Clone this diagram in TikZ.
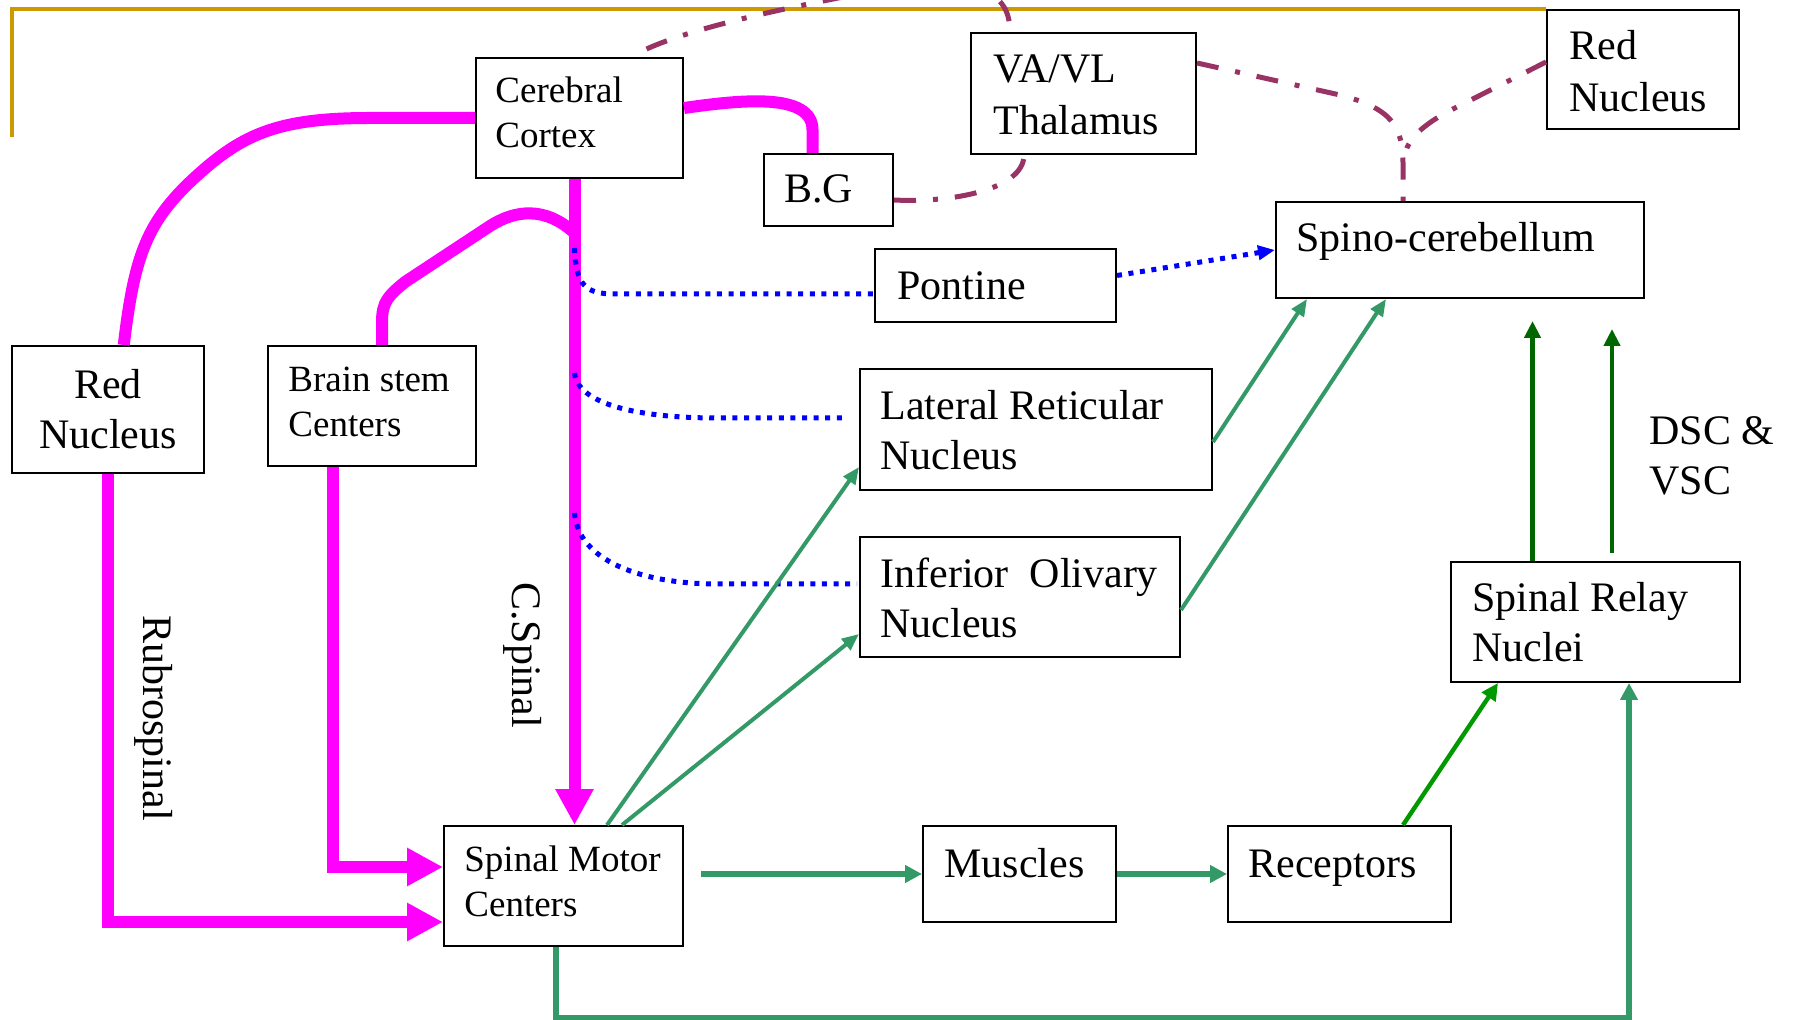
\documentclass[tikz,border=0pt]{standalone}
\usepackage{fontspec}
\setmainfont{Liberation Serif}
\usetikzlibrary{arrows.meta,calc}
\definecolor{magc}{RGB}{255,0,255}
\definecolor{plum}{RGB}{153,51,102}
\definecolor{sgreen}{RGB}{51,153,102}
\definecolor{bgreen}{RGB}{0,153,0}
\definecolor{dgreen}{RGB}{0,102,0}
\definecolor{goldc}{RGB}{204,153,0}
\newcommand\fbig{\fontsize{21}{25.2}\selectfont}
\newcommand\fsmall{\fontsize{18.5}{22.5}\selectfont}
\begin{document}
\begin{tikzpicture}[x=0.5pt,y=-0.5pt,
  box/.style 2 args={draw=black,line width=1pt,fill=white,inner sep=0pt,minimum width=#1,minimum height=#2},
  txt/.style={inner sep=0pt,anchor=base west,align=left,font=\fbig},
  stxt/.style={txt,font=\fsmall},
  magl/.style={line width=6pt,color=magc},
  magarr/.style={magl,-{Triangle[length=18pt,width=18pt]}},
  bdot/.style={line width=2.5pt,color=blue,dash pattern=on 2.5pt off 3.3pt},
  pdd/.style={line width=2.5pt,color=plum,dash pattern=on 11pt off 8.5pt on 2.5pt off 8.5pt},
  garr/.style={line width=2pt,color=sgreen,-{Triangle[length=8.5pt,width=7pt]}},
  gharr/.style={line width=2.6pt,color=sgreen,-{Triangle[length=8.5pt,width=8.5pt]}},
  dgarr/.style={line width=2.2pt,color=dgreen,-{Triangle[length=8.5pt,width=8pt]}},
  goldl/.style={line width=2pt,color=goldc}
]
\useasboundingbox (0,0) rectangle (1793,1020);

% boxes
\node[box={103.5pt}{60pt}] (cc) at (579.5,118) {};
\node[box={64.5pt}{36pt}] (bg) at (828.5,190) {};
\node[box={112.5pt}{60.5pt}] (vav) at (1083.5,93.5) {};
\node[box={96pt}{59.5pt}] (rnr) at (1643,69.5) {};
\node[box={184pt}{48pt}] (spc) at (1460,250) {};
\node[box={120.5pt}{36.5pt}] (pon) at (995.5,285.5) {};
\node[box={176pt}{60.5pt}] (lrn) at (1036,429.5) {};
\node[box={160pt}{60pt}] (ion) at (1020,597) {};
\node[box={96.25pt}{63.5pt}] (rnl) at (107.75,409.5) {};
\node[box={104pt}{60pt}] (bsc) at (372,406) {};
\node[box={119.5pt}{60pt}] (smc) at (563.5,886) {};
\node[box={96.5pt}{48pt}] (mus) at (1019.5,874) {};
\node[box={111.5pt}{48pt}] (rec) at (1339.5,874) {};
\node[box={144.5pt}{60pt}] (srn) at (1595.5,622) {};

% gold frame line
\coordinate (goldEnd) at (11.5,137);
\draw[goldl] (goldEnd) |- (rnr.north west);

% magenta pathways
\coordinate (csTop) at ($(cc.south)+(-5,0)$);
\draw[magl] ($(rnl.north)+(16,0)$) .. controls (134,260) and (145,225) .. (190,182)
  .. controls (240,135) and (275,118) .. (370,118) -- (cc.west);
\draw[magl] ($(cc.east)+(0,-10)$) .. controls (740,100) and (812.5,92) .. (812.5,130) -- ($(bg.north)+(-16,0)$);
\draw[magarr] (csTop) -- (csTop |- smc.north);
\draw[magl] ($(bsc.north)+(10,0)$) -- (382,322) .. controls (382,302) and (388,296) .. (405,282)
  -- (490,226) .. controls (515,210) and (545,206) .. ($(csTop)+(0,54)$);
\draw[magarr] (rnl.south) |- ($(smc.west)+(0,36)$);
\draw[magarr] ($(bsc.south)+(-39,0)$) |- ($(smc.west)+(0,-19)$);

% blue dotted
\draw[bdot] ($(csTop)+(0,69)$) .. controls (576,285) and (585,294) .. (615,294) -- ($(pon.west)+(0,8.5)$);
\draw[bdot] ($(csTop)+(0,194)$) .. controls (578,405) and (640,418) .. (718,418) -- ($(lrn.west)+(-13,-11.5)$);
\draw[bdot] ($(csTop)+(0,334)$) .. controls (578,560) and (640,584) .. (718,584) -- ($(ion.west)+(-2,-13)$);
\draw[bdot,-{Triangle[length=8.5pt,width=7pt]}] ($(pon.east)+(0,-10)$) -- (spc.west);

% plum dash-dot
\coordinate (jn) at ($(spc.north)+(-57,-37)$);
\draw[pdd] ($(cc.north)+(67,-8)$) .. controls (700,25) and (800,5) .. (880,-10)
  .. controls (960,-25) and (1012,-15) .. ($(vav.north)+(-74,0)$);
\draw[pdd] ($(bg.east)+(0,10)$) .. controls (950,203) and (1024,190) .. ($(vav.south)+(-59.5,0)$);
\draw[pdd] ($(vav.east)+(0,-30.5)$) -- (1340,95) .. controls (1390,108) and (1403,125) .. (jn) -- ($(spc.north)+(-57,0)$);
\draw[pdd] ($(rnr.west)+(0,-7.5)$) -- (1445,113) .. controls (1420,128) and (1405,140) .. (jn);

% green pathways
\draw[garr] ($(smc.north)+(43.5,0)$) -- ($(lrn.west)+(0,37.5)$);
\draw[garr] ($(smc.north)+(58.5,0)$) -- ($(ion.west)+(0,37)$);
\draw[garr] ($(lrn.east)+(0,12.5)$) -- ($(spc.south)+(-153,0)$);
\draw[garr] ($(ion.east)+(0,13)$) -- ($(spc.south)+(-74,0)$);
\draw[gharr] ($(smc.east)+(17,-12)$) -- (mus.west);
\draw[gharr] (mus.east) -- (rec.west);
\draw[gharr] ($(smc.south)+(-7.5,0)$) -- ++(0,71) -| ($(srn.south)+(33.5,0)$);
\draw[line width=2.2pt,color=bgreen,-{Triangle[length=8.5pt,width=8pt]}] ($(rec.north)+(63.5,0)$) -- ($(srn.south)+(-97.5,0)$);
\coordinate (dscA) at ($(srn.north)+(-63,-240)$);
\coordinate (dscB0) at ($(srn.north)+(16.5,-8)$);
\coordinate (dscB) at ($(srn.north)+(16.5,-232)$);
\draw[dgarr] ($(srn.north)+(-63,0)$) -- (dscA);
\draw[dgarr] (dscB0) -- (dscB);

% texts (anchor = baseline of the last line)
\node[stxt] (cct) at (495,148) {Cerebral\\Cortex};
\node[txt] (bgt) at (784,203) {B.G};
\node[txt,font={\fontsize{21}{26}\selectfont}] (vavt) at (993,135) {VA/VL\\Thalamus};
\node[txt,font={\fontsize{21}{26}\selectfont}] (rnrt) at (1569,112) {Red\\Nucleus};
\node[txt] (spct) at (1296,252) {Spino-cerebellum};
\node[txt] (pont) at (897,300) {Pontine};
\node[txt] (lrnt) at (880,470) {Lateral Reticular\\Nucleus};
\node[txt] (iont) at (880,638) {Inferior\ \ Olivary\\Nucleus};
\node[txt,anchor=base,align=center] (rnlt) at (108,449) {Red\\Nucleus};
\node[stxt] (bsct) at (288,437) {Brain stem\\Centers};
\node[stxt] (smct) at (464,916) {Spinal Motor\\Centers};
\node[txt] (must) at (944,877) {Muscles};
\node[txt] (rect) at (1248,877) {Receptors};
\node[txt] (srnt) at (1472,662) {Spinal Relay\\Nuclei};
\node[txt] (dsct) at (1649,495) {DSC \&\\VSC};
\node[txt,rotate=-90] (rubt) at (143,615) {Rubrospinal};
\node[txt,rotate=-90] (cspt) at (512,582) {C.Spinal};
\end{tikzpicture}
\end{document}
